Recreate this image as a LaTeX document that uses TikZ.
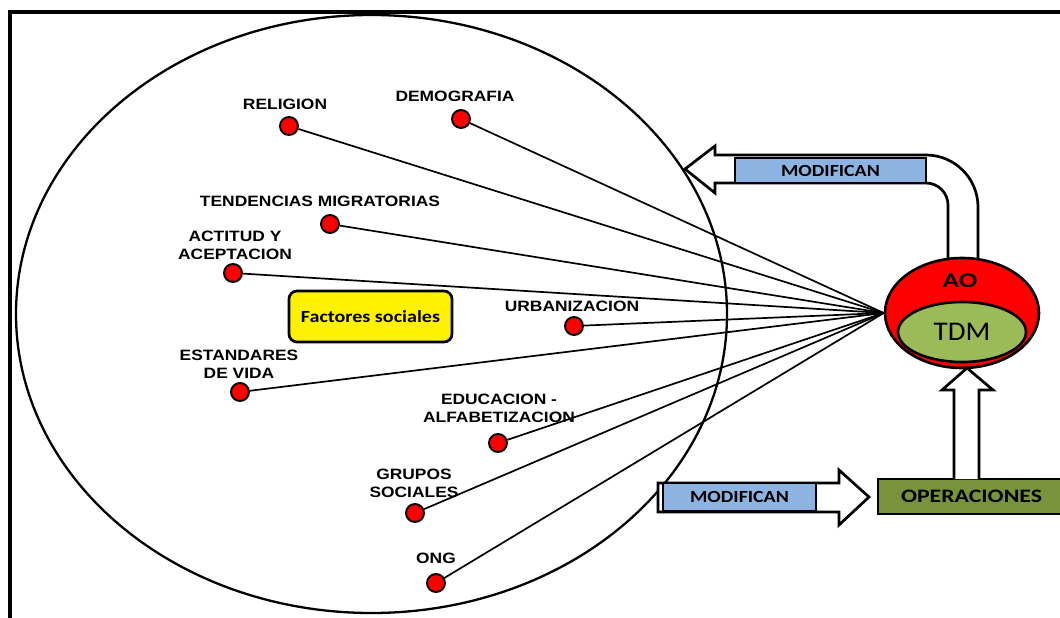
\documentclass[tikz,border=0pt]{standalone}
\usepackage{fontspec}
\usepackage{graphicx}
\usetikzlibrary{shapes.geometric}
\newfontfamily\labfont[FakeStretch=1.16]{Liberation Sans}
\newfontfamily\calfont{Carlito}
\newcommand\wide[2]{\scalebox{#1}[1]{#2}}
\definecolor{boxblue}{HTML}{8DB3E2}
\definecolor{tdmgreen}{HTML}{9BBB59}
\definecolor{opsgreen}{HTML}{77933C}
\begin{document}
\begin{tikzpicture}[x=1pt,y=-1pt,
  factor/.style={circle, draw, fill=red, line width=1.9pt, minimum size=18pt, inner sep=0pt},
  lab/.style={font={\labfont\bfseries\fontsize{15}{18}\selectfont}, align=center, inner sep=0pt},
  link/.style={line width=1.7pt},
  blockarrow/.style={draw, fill=white, line width=2.7pt, line join=miter},
  tag/.style={draw, line width=2.7pt, inner sep=0pt, font={\calfont\bfseries\fontsize{17}{20}\selectfont}}]
\clip (0,0) rectangle (1060,618);
\fill[white] (0,0) rectangle (1060,618);
% outer frame
\draw[line width=4pt] (10,12) rectangle (1080,640);
% the large ellipse of social factors
\draw[line width=2.3pt] (371.5,314) ellipse [x radius=355.5, y radius=299];

% feedback arrow from AO back to the factors
\draw[blockarrow] (948,264) -- (948,205) .. controls (948,192.9) and (938.1,183) .. (926,183)
  -- (715,183) -- (715,193) -- (685,169) -- (715,146) -- (715,155) -- (926,155)
  .. controls (954.7,155) and (978,178.3) .. (978,207) -- (978,264);
\node[tag, fill=boxblue, minimum width=191pt, minimum height=25pt] (mod1) at (830.5,170.5) {\wide{1.17}{MODIFICAN}};

% lower arrow towards the operations
\draw[blockarrow] (658,483) -- (839,483) -- (839,470) -- (869,497) -- (839,525) -- (839,512) -- (658,512) -- cycle;
\node[tag, fill=boxblue, minimum width=153pt, minimum height=28pt] (mod2) at (739.5,497) {\wide{1.17}{MODIFICAN}};

% operations box
\node[tag, fill=opsgreen, minimum width=187pt, minimum height=35pt,
  font={\calfont\bfseries\fontsize{19}{22}\selectfont}] (ops) at (971.5,496.5) {\wide{1.25}{OPERACIONES}};

% AO / TDM
\node[ellipse, draw, fill=red, line width=2.6pt, minimum width=154pt, minimum height=110pt, inner sep=0pt] (ao) at (962,313) {};
\node[font={\calfont\bfseries\fontsize{21}{24}\selectfont}, inner sep=0pt] (aotext) at (960,281) {\wide{1.3}{AO}};
\node[ellipse, draw, fill=tdmgreen, line width=2.6pt, minimum width=128pt, minimum height=60pt, inner sep=0pt,
  font={\calfont\fontsize{27}{30}\selectfont}] (tdm) at (962,332) {\wide{1.07}{TDM}};

% upward arrow from operations to AO
\draw[blockarrow] (954,479) -- (954,390) -- (942,390) -- (967,368) -- (993,390) -- (979,390) -- (979,479);

% central label
\node[draw, fill=yellow, line width=2.7pt, rounded corners=8pt, minimum width=163pt, minimum height=51pt,
  font={\calfont\bfseries\fontsize{17}{20}\selectfont}] (fs) at (370.5,316.5) {\wide{1.18}{Factores sociales}};

% factor dots
\node[factor] (religion) at (289,126) {};
\node[factor] (demografia) at (461,119) {};
\node[factor] (tendencias) at (330,224) {};
\node[factor] (actitud) at (233,273) {};
\node[factor] (urbanizacion) at (574,326) {};
\node[factor] (estandares) at (240,392) {};
\node[factor] (educacion) at (498,443) {};
\node[factor] (grupos) at (415,513) {};
\node[factor] (ong) at (436,583) {};

% factor labels
\node[lab] (lreligion) at (285,104) {RELIGION};
\node[lab] (ldemografia) at (455,96) {DEMOGRAFIA};
\node[lab] (ltendencias) at (320,201) {TENDENCIAS MIGRATORIAS};
\node[lab] (lactitud) at (235,245.5) {ACTITUD Y\\ACEPTACION};
\node[lab] (lurbanizacion) at (572,306) {URBANIZACION};
\node[lab] (lestandares) at (239,364) {ESTANDARES\\DE VIDA};
\node[lab] (leducacion) at (499,408.5) {EDUCACION -\\ALFABETIZACION};
\node[lab] (lgrupos) at (414,483) {GRUPOS\\SOCIALES};
\node[lab] (long) at (436,558) {ONG};

% links from each factor to AO
\foreach \f in {religion,demografia,tendencias,actitud,urbanizacion,estandares,educacion,grupos,ong}
  \draw[link] (\f) -- (ao.west);
\end{tikzpicture}
\end{document}
